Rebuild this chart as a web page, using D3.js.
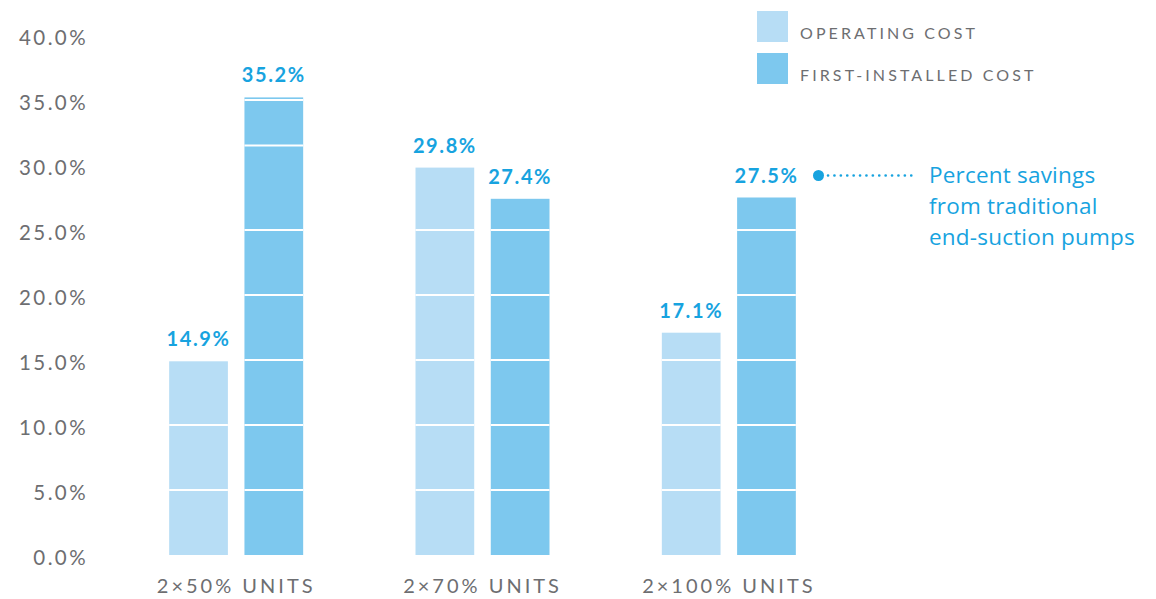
<!DOCTYPE html>
<html>
<head>
<meta charset="utf-8">
<script src="https://cdn.jsdelivr.net/npm/d3@7/dist/d3.min.js"></script>
<style>
  html, body { margin: 0; padding: 0; background: #fff; }
  svg { display: block; }
</style>
</head>
<body>
<svg id="chart" width="1156" height="599"></svg>
<script>
// ---- data ----
const categories = ["2×50% UNITS", "2×70% UNITS", "2×100% UNITS"];
const seriesNames = ["OPERATING COST", "FIRST-INSTALLED COST"];
const operatingCost = [14.9, 29.8, 17.1];
const firstInstalledCost = [35.2, 27.4, 27.5];
const yTicks = [0, 5, 10, 15, 20, 25, 30, 35, 40];
const separatorValues = [5, 10, 15, 20, 25, 31.5, 35];
const annotationLines = ["Percent savings", "from traditional", "end-suction pumps"];

// ---- style ----
const colors = ["#b7ddf5", "#7dc8ee"];
const labelBlue = "#17a3df";
const grey = "#6d6e71";

const svg = d3.select("#chart");

const y = d3.scaleLinear().domain([0, 40]).range([555, 35]);
const x0 = d3.scaleBand().domain(categories).range([113, 852]).paddingInner(0).paddingOuter(0);
const x1 = d3.scaleBand().domain(seriesNames).range([0, 134]).paddingInner(0.22).paddingOuter(0);

const data = categories.map((c, i) => ({
  cat: c,
  vals: [operatingCost[i], firstInstalledCost[i]]
}));

// y axis labels
const yAxis = d3.axisLeft(y).tickValues(yTicks).tickSize(0).tickPadding(0)
  .tickFormat(d => d3.format(".1f")(d) + "%");
const gy = svg.append("g").attr("transform", "translate(88,0)").call(yAxis);
gy.select(".domain").remove();
gy.selectAll("text")
  .attr("font-family", "Lato, sans-serif")
  .attr("font-size", 20.5)
  .attr("letter-spacing", "2.4px")
  .attr("fill", grey)
  .attr("dy", "0.45em");

// bars
const groups = svg.append("g").selectAll("g").data(data).join("g")
  .attr("transform", d => `translate(${x0(d.cat) + x0.bandwidth() / 2 - 67},0)`);

const barData = d => d.vals.map((v, j) => ({ v, s: seriesNames[j], j }));

groups.selectAll("rect").data(barData)
  .join("rect")
  .attr("x", d => x1(d.s))
  .attr("width", x1.bandwidth())
  .attr("y", d => y(d.v))
  .attr("height", d => y(0) - y(d.v))
  .attr("fill", d => colors[d.j]);

// white separators inside each bar
groups.selectAll("g.sep").data(barData).join("g").attr("class", "sep")
  .each(function (b) {
    d3.select(this).selectAll("line")
      .data(separatorValues.filter(s => s < b.v))
      .join("line")
      .attr("x1", x1(b.s)).attr("x2", x1(b.s) + x1.bandwidth())
      .attr("y1", s => y(s)).attr("y2", s => y(s))
      .attr("stroke", "#fff").attr("stroke-width", 2.2);
  });

// value labels
groups.selectAll("text.val").data(barData)
  .join("text").attr("class", "val")
  .attr("x", d => x1(d.s) + x1.bandwidth() / 2)
  .attr("y", d => y(d.v) - 15)
  .attr("text-anchor", "middle")
  .attr("font-family", "Lato, sans-serif")
  .attr("font-weight", 700)
  .attr("font-size", 20)
  .attr("letter-spacing", "1.6px")
  .attr("fill", labelBlue)
  .text(d => d3.format(".1f")(d.v) + "%");

// x axis labels
const xAxis = d3.axisBottom(x0).tickSize(0).tickPadding(0);
const gx = svg.append("g").attr("transform", "translate(0,578)").call(xAxis);
gx.select(".domain").remove();
gx.selectAll("text")
  .attr("font-family", "Lato, sans-serif")
  .attr("font-size", 20)
  .attr("letter-spacing", "3px")
  .attr("fill", grey)
  .attr("dy", "0.76em");

// legend
const legend = svg.append("g").selectAll("g").data(seriesNames).join("g")
  .attr("transform", (d, i) => `translate(757,${11 + i * 42})`);
legend.append("rect").attr("width", 31).attr("height", 31).attr("fill", (d, i) => colors[i]);
legend.append("text")
  .attr("x", 43).attr("y", 27.5)
  .attr("font-family", "Lato, sans-serif")
  .attr("font-size", 16)
  .attr("letter-spacing", "3.1px")
  .attr("fill", grey)
  .text(d => d);

// annotation
const ann = svg.append("g");
const lastIdx = categories.length - 1;
const annY = y(firstInstalledCost[lastIdx]) - 22;
ann.append("circle").attr("cx", 818.5).attr("cy", annY).attr("r", 5.5).attr("fill", labelBlue);
ann.append("line").attr("x1", 828).attr("x2", 916).attr("y1", annY).attr("y2", annY)
  .attr("stroke", labelBlue).attr("stroke-width", 2.6)
  .attr("stroke-dasharray", "0.1,6.3").attr("stroke-linecap", "round");
ann.append("text")
  .attr("font-family", "'Open Sans', sans-serif")
  .attr("font-size", 22.5)
  .attr("letter-spacing", "0.2px")
  .attr("fill", labelBlue)
  .selectAll("tspan").data(annotationLines).join("tspan")
  .attr("x", 929).attr("y", (d, i) => annY + 7 + i * 31)
  .text(d => d);
</script>
</body>
</html>
